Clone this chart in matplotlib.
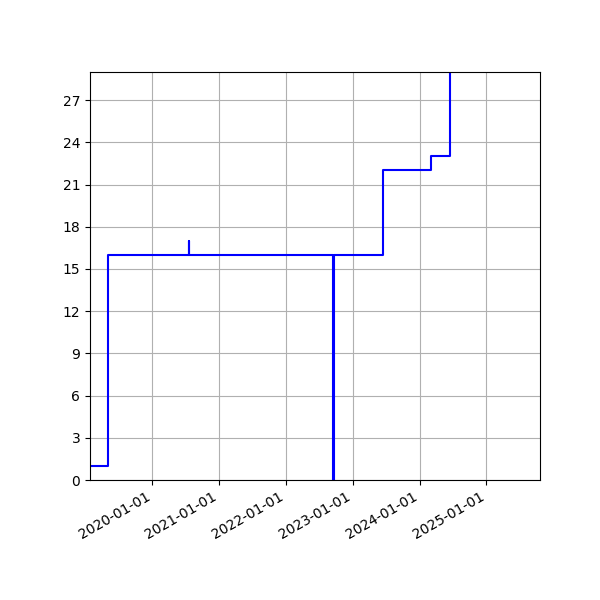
import matplotlib
matplotlib.use("Agg")
import matplotlib.pyplot as plt
import matplotlib.dates as mdates
from matplotlib.ticker import MultipleLocator
import numpy as np

dates = ["2019-01-25", "2019-05-02", "2020-07-19", "2020-07-21", "2022-09-17",
         "2022-09-22", "2023-06-17", "2024-03-05", "2024-06-16", "2025-10-21"]
values = [1, 16, 17, 16, 0, 16, 22, 23, 31, 31]
x_limits = ["2019-01-25", "2025-10-21"]
tick_years = ["2020-01-01", "2021-01-01", "2022-01-01", "2023-01-01", "2024-01-01", "2025-01-01"]

d = np.array(dates, dtype="datetime64[D]")
fig = plt.figure(figsize=(6, 6), dpi=100)
ax = fig.add_axes([0.15, 0.2, 0.75, 0.68])
ax.step(d, values, where="post", color="blue", linewidth=1.5)
ax.set_xlim(np.datetime64(x_limits[0]), np.datetime64(x_limits[1]))
ax.set_ylim(0, 29)
ax.yaxis.set_major_locator(MultipleLocator(3))
ax.set_xticks(np.array(tick_years, dtype="datetime64[D]"))
ax.xaxis.set_major_formatter(mdates.DateFormatter("%Y-%m-%d"))
for lbl in ax.get_xticklabels():
    lbl.set_rotation(30)
    lbl.set_ha("right")
ax.grid(True)
fig.savefig("out.png", dpi=100)
